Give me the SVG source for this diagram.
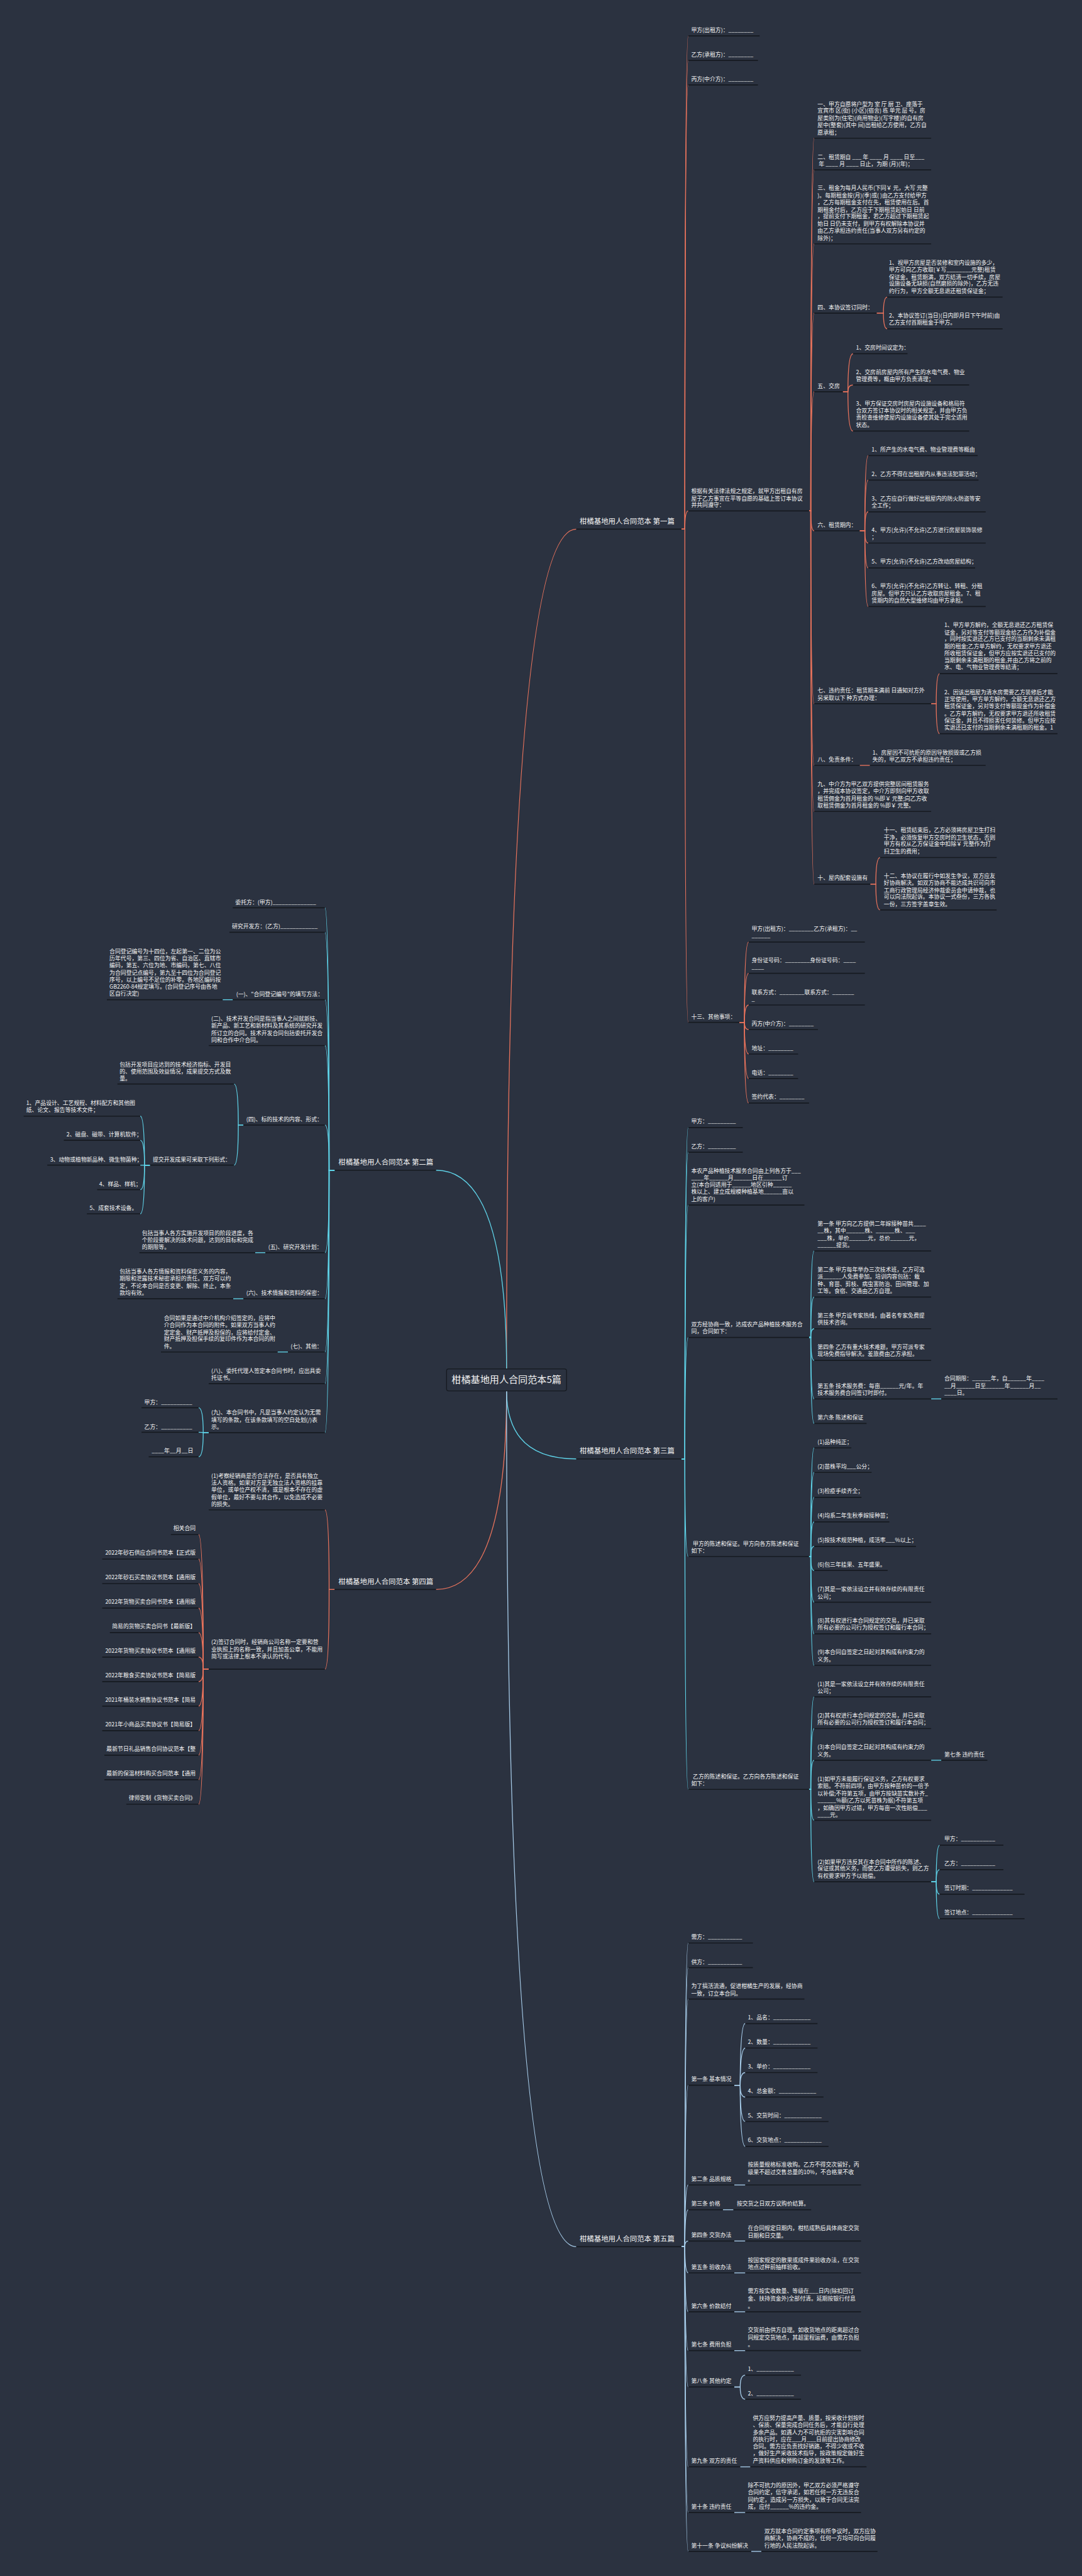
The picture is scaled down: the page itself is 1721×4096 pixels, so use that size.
<svg xmlns="http://www.w3.org/2000/svg" width="1721" height="4096" viewBox="0 0 1721 4096">
<style>
.t{font-family:"Noto Sans CJK SC","Noto Sans",sans-serif;font-size:13.2px;fill:#f4f4f4}
.m{font-size:17px}
.ct{font-size:22.5px}
.u{stroke:#161a20;stroke-width:2.5}
.c{fill:none;stroke-width:2}
.o{stroke:#e8735c}
.cy{stroke:#5fd3e8}
.lb{stroke:#a6cbe8}
</style>
<rect x="0" y="0" width="1721" height="4096" fill="#2b3240"/>
<g transform="scale(0.672)">
<g id="connectors">
<g class="c o">
<path d="M1199 3240 Q1199 1252 1364 1252"/>
<path d="M1613 1252 H1621 Q1621 85 1629 85"/>
<path d="M1613 1252 H1621 Q1621 143 1629 143"/>
<path d="M1613 1252 H1621 Q1621 201 1629 201"/>
<path d="M1613 1252 H1621 Q1621 1209 1629 1209"/>
<path d="M1613 1252 H1621 Q1621 2419 1629 2419"/>
<path d="M1915 1209 H1919 Q1919 327 1927 327"/>
<path d="M1915 1209 H1919 Q1919 402 1927 402"/>
<path d="M1915 1209 H1919 Q1919 577 1927 577"/>
<path d="M1915 1209 H1919 Q1919 741 1927 741"/>
<path d="M1915 1209 H1919 Q1919 927 1927 927"/>
<path d="M1915 1209 H1919 Q1919 1256 1927 1256"/>
<path d="M1915 1209 H1919 Q1919 1665 1927 1665"/>
<path d="M1915 1209 H1919 Q1919 1811 1927 1811"/>
<path d="M1915 1209 H1919 Q1919 1920 1927 1920"/>
<path d="M1915 1209 H1919 Q1919 2092 1927 2092"/>
<path d="M2075 741 H2091 Q2091 703 2100 703"/>
<path d="M2075 741 H2091 Q2091 778 2100 778"/>
<path d="M1995 927 H2007 Q2007 837 2019 837"/>
<path d="M1995 927 H2007 Q2007 911 2019 911"/>
<path d="M1995 927 H2007 Q2007 1020 2019 1020"/>
<path d="M2035 1256 H2047 Q2047 1078 2055 1078"/>
<path d="M2035 1256 H2047 Q2047 1136 2055 1136"/>
<path d="M2035 1256 H2047 Q2047 1211 2055 1211"/>
<path d="M2035 1256 H2047 Q2047 1285 2055 1285"/>
<path d="M2035 1256 H2047 Q2047 1344 2055 1344"/>
<path d="M2035 1256 H2047 Q2047 1435 2055 1435"/>
<path d="M2204 1665 H2216 Q2216 1594 2224 1594"/>
<path d="M2204 1665 H2216 Q2216 1736 2224 1736"/>
<path d="M2035 1811 H2059"/>
<path d="M2060 2092 H2073 Q2073 2029 2083 2029"/>
<path d="M2060 2092 H2073 Q2073 2153 2083 2153"/>
<path d="M1750 2419 H1762 Q1762 2229 1772 2229"/>
<path d="M1750 2419 H1762 Q1762 2303 1772 2303"/>
<path d="M1750 2419 H1762 Q1762 2378 1772 2378"/>
<path d="M1750 2419 H1762 Q1762 2436 1772 2436"/>
<path d="M1750 2419 H1762 Q1762 2494 1772 2494"/>
<path d="M1750 2419 H1762 Q1762 2552 1772 2552"/>
<path d="M1750 2419 H1762 Q1762 2610 1772 2610"/>
<path d="M1199 3291 Q1199 3761 1032 3761"/>
<path d="M792 3761 H779 Q779 3572.5 769 3572.5"/>
<path d="M792 3761 H779 Q779 3949.5 769 3949.5"/>
<path d="M494 3949.5 H481 Q481 3631 470 3631"/>
<path d="M494 3949.5 H481 Q481 3689 470 3689"/>
<path d="M494 3949.5 H481 Q481 3747 470 3747"/>
<path d="M494 3949.5 H481 Q481 3805 470 3805"/>
<path d="M494 3949.5 H481 Q481 3863 470 3863"/>
<path d="M494 3949.5 H481 Q481 3921 470 3921"/>
<path d="M494 3949.5 H481 Q481 3979 470 3979"/>
<path d="M494 3949.5 H481 Q481 4037 470 4037"/>
<path d="M494 3949.5 H481 Q481 4095 470 4095"/>
<path d="M494 3949.5 H481 Q481 4153 470 4153"/>
<path d="M494 3949.5 H481 Q481 4211 470 4211"/>
<path d="M494 3949.5 H481 Q481 4269 470 4269"/>
</g>
<g class="c cy">
<path d="M1199 3291 Q1199 3452 1364 3452"/>
<path d="M1613 3452 H1621 Q1621 2668 1629 2668"/>
<path d="M1613 3452 H1621 Q1621 2726.5 1629 2726.5"/>
<path d="M1613 3452 H1621 Q1621 2851.5 1629 2851.5"/>
<path d="M1613 3452 H1621 Q1621 3164.5 1629 3164.5"/>
<path d="M1613 3452 H1621 Q1621 3683 1629 3683"/>
<path d="M1613 3452 H1621 Q1621 4234 1629 4234"/>
<path d="M1915 3164.5 H1919 Q1919 2960 1927 2960"/>
<path d="M1915 3164.5 H1919 Q1919 3069 1927 3069"/>
<path d="M1915 3164.5 H1919 Q1919 3144 1927 3144"/>
<path d="M1915 3164.5 H1919 Q1919 3219 1927 3219"/>
<path d="M1915 3164.5 H1919 Q1919 3310 1927 3310"/>
<path d="M1915 3164.5 H1919 Q1919 3368 1927 3368"/>
<path d="M2204 3310 H2228"/>
<path d="M1915 3683 H1919 Q1919 3426 1927 3426"/>
<path d="M1915 3683 H1919 Q1919 3484 1927 3484"/>
<path d="M1915 3683 H1919 Q1919 3543 1927 3543"/>
<path d="M1915 3683 H1919 Q1919 3601 1927 3601"/>
<path d="M1915 3683 H1919 Q1919 3659 1927 3659"/>
<path d="M1915 3683 H1919 Q1919 3716 1927 3716"/>
<path d="M1915 3683 H1919 Q1919 3791 1927 3791"/>
<path d="M1915 3683 H1919 Q1919 3866 1927 3866"/>
<path d="M1915 3683 H1919 Q1919 3940.5 1927 3940.5"/>
<path d="M1915 4234 H1919 Q1919 4015 1927 4015"/>
<path d="M1915 4234 H1919 Q1919 4090 1927 4090"/>
<path d="M1915 4234 H1919 Q1919 4165 1927 4165"/>
<path d="M1915 4234 H1919 Q1919 4307 1927 4307"/>
<path d="M1915 4234 H1919 Q1919 4452.5 1927 4452.5"/>
<path d="M2204 4165 H2228"/>
<path d="M2204 4452.5 H2216 Q2216 4366 2224 4366"/>
<path d="M2204 4452.5 H2216 Q2216 4424 2224 4424"/>
<path d="M2204 4452.5 H2216 Q2216 4482 2224 4482"/>
<path d="M2204 4452.5 H2216 Q2216 4540 2224 4540"/>
<path d="M1199 3240 Q1199 2769 1032 2769"/>
<path d="M792 2769 H779 Q779 2148 769 2148"/>
<path d="M792 2769 H779 Q779 2206 769 2206"/>
<path d="M792 2769 H779 Q779 2365.5 769 2365.5"/>
<path d="M792 2769 H779 Q779 2474 769 2474"/>
<path d="M792 2769 H779 Q779 2662 769 2662"/>
<path d="M792 2769 H779 Q779 2964 769 2964"/>
<path d="M792 2769 H779 Q779 3073 769 3073"/>
<path d="M792 2769 H779 Q779 3199 769 3199"/>
<path d="M792 2769 H779 Q779 3274 769 3274"/>
<path d="M792 2769 H779 Q779 3390 769 3390"/>
<path d="M551 2365.5 H527"/>
<path d="M576 2662 H564 Q564 2565 554 2565"/>
<path d="M576 2662 H564 Q564 2757 554 2757"/>
<path d="M355 2757 H342 Q342 2641 332 2641"/>
<path d="M355 2757 H342 Q342 2698 332 2698"/>
<path d="M355 2757 H332"/>
<path d="M355 2757 H342 Q342 2815 332 2815"/>
<path d="M355 2757 H342 Q342 2872 332 2872"/>
<path d="M628 2964 H604"/>
<path d="M576 3073 H552"/>
<path d="M681.5 3199 H657"/>
<path d="M494 3390 H481 Q481 3331 470 3331"/>
<path d="M494 3390 H481 Q481 3389 470 3389"/>
<path d="M494 3390 H481 Q481 3447 470 3447"/>
</g>
<g class="c lb">
<path d="M1199 3291 Q1199 5316 1364 5316"/>
<path d="M1613 5316 H1621 Q1621 4597.5 1629 4597.5"/>
<path d="M1613 5316 H1621 Q1621 4655.6 1629 4655.6"/>
<path d="M1613 5316 H1621 Q1621 4730 1629 4730"/>
<path d="M1613 5316 H1621 Q1621 4934 1629 4934"/>
<path d="M1613 5316 H1621 Q1621 5170 1629 5170"/>
<path d="M1613 5316 H1621 Q1621 5228.6 1629 5228.6"/>
<path d="M1613 5316 H1621 Q1621 5302.6 1629 5302.6"/>
<path d="M1613 5316 H1621 Q1621 5378 1629 5378"/>
<path d="M1613 5316 H1621 Q1621 5470 1629 5470"/>
<path d="M1613 5316 H1621 Q1621 5562 1629 5562"/>
<path d="M1613 5316 H1621 Q1621 5648 1629 5648"/>
<path d="M1613 5316 H1621 Q1621 5837 1629 5837"/>
<path d="M1613 5316 H1621 Q1621 5945 1629 5945"/>
<path d="M1613 5316 H1621 Q1621 6037 1629 6037"/>
<path d="M1738 4934 H1752 Q1752 4788 1764 4788"/>
<path d="M1738 4934 H1752 Q1752 4846 1764 4846"/>
<path d="M1738 4934 H1752 Q1752 4904 1764 4904"/>
<path d="M1738 4934 H1752 Q1752 4962 1764 4962"/>
<path d="M1738 4934 H1752 Q1752 5020 1764 5020"/>
<path d="M1738 4934 H1752 Q1752 5078.6 1764 5078.6"/>
<path d="M1738 5170 H1764"/>
<path d="M1711 5228.6 H1736"/>
<path d="M1738 5302.6 H1764"/>
<path d="M1738 5378 H1764"/>
<path d="M1738 5470 H1764"/>
<path d="M1738 5562 H1764"/>
<path d="M1738 5648 H1752 Q1752 5620 1764 5620"/>
<path d="M1738 5648 H1752 Q1752 5677 1764 5677"/>
<path d="M1752 5837 H1776"/>
<path d="M1738 5945 H1764"/>
<path d="M1778 6037 H1802"/>
</g>
</g>

<g id="center"><rect x="1057" y="3239" width="284" height="52" rx="5" fill="#2b3240" stroke="#161a20" stroke-width="2"/><text class="t ct" x="1069" y="3273">柑橘基地用人合同范本5篇</text></g>

<g id="b1"><line class="u" x1="1364" y1="1252" x2="1613" y2="1252"/><text class="t m" x="1372" y="1239">柑橘基地用人合同范本 第一篇</text></g>
<g id="b1-1"><line class="u" x1="1629" y1="85" x2="1798" y2="85"/><text class="t" x="1636" y="75.4">甲方(出租方)：________</text></g>
<g id="b1-2"><line class="u" x1="1629" y1="143" x2="1794" y2="143"/><text class="t" x="1636" y="134">乙方(承租方)：________</text></g>
<g id="b1-3"><line class="u" x1="1629" y1="201" x2="1794" y2="201"/><text class="t" x="1636" y="192">丙方(中介方)：________</text></g>
<g id="b1-4"><line class="u" x1="1629" y1="1209" x2="1915" y2="1209"/><text class="t"><tspan x="1636" y="1167">根据有关法律法规之规定，就甲方出租自有房</tspan><tspan x="1636" y="1184">屋于乙方事宜在平等自愿的基础上签订本协议</tspan><tspan x="1636" y="1200">并共同遵守：</tspan></text></g>
<g id="b1-4-1"><line class="u" x1="1927" y1="327" x2="2204" y2="327"/><text class="t"><tspan x="1935" y="251">一、甲方自愿将户型为 室 厅 厨 卫、座落于</tspan><tspan x="1935" y="267">宜宾市 区(街) (小区)(宿舍) 栋 单元 层 号。房</tspan><tspan x="1935" y="284">屋类别为(住宅)(商用物业)(写字楼)的自有房</tspan><tspan x="1935" y="301">屋中(整套)(其中 间)出租给乙方使用，乙方自</tspan><tspan x="1935" y="318">愿承租；</tspan></text></g>
<g id="b1-4-2"><line class="u" x1="1927" y1="402" x2="2204" y2="402"/><text class="t"><tspan x="1935" y="376">二、租赁期自 ___ 年 ____ 月 ____ 日至___</tspan><tspan x="1935" y="393"> 年 ____ 月 ____ 日止，为期 (月)(年)；</tspan></text></g>
<g id="b1-4-3"><line class="u" x1="1927" y1="577" x2="2204" y2="577"/><text class="t"><tspan x="1935" y="450">三、租金为每月人民币(下同￥ 元，大写 元整</tspan><tspan x="1935" y="467">)。每期租金按(月)(季)或( )由乙方支付给甲方</tspan><tspan x="1935" y="484">，乙方每期租金支付在先，租赁使用在后。首</tspan><tspan x="1935" y="501">期租金付后，乙方应于下期租赁起始日 日前</tspan><tspan x="1935" y="517">，提前支付下期租金，若乙方超过下期租赁起</tspan><tspan x="1935" y="534">始日 日仍未支付，则甲方有权解除本协议并</tspan><tspan x="1935" y="551">由乙方承担违约责任(当事人双方另有约定的</tspan><tspan x="1935" y="568">除外)；</tspan></text></g>
<g id="b1-4-4"><line class="u" x1="1927" y1="741" x2="2075" y2="741"/><text class="t" x="1935" y="732">四、本协议签订同时：</text></g>
<g id="b1-4-4-1"><line class="u" x1="2100" y1="703" x2="2373" y2="703"/><text class="t"><tspan x="2104" y="626">1、视甲方房屋是否装修和室内设施的多少，</tspan><tspan x="2104" y="643">甲方可向乙方收取(￥写________元整)租赁</tspan><tspan x="2104" y="660">保证金。租赁期满，双方结清一切手续，房屋</tspan><tspan x="2104" y="676">设施设备无缺损(自然磨损的除外)，乙方无违</tspan><tspan x="2104" y="693">约行为，甲方全额无息退还租赁保证金；</tspan></text></g>
<g id="b1-4-4-2"><line class="u" x1="2100" y1="778" x2="2373" y2="778"/><text class="t"><tspan x="2104" y="752">2、本协议签订(当日)(日内即月日下午时前)由</tspan><tspan x="2104" y="768">乙方支付首期租金于甲方。</tspan></text></g>
<g id="b1-4-5"><line class="u" x1="1927" y1="927" x2="1995" y2="927"/><text class="t" x="1935" y="918">五、交房</text></g>
<g id="b1-4-5-1"><line class="u" x1="2019" y1="837" x2="2148" y2="837"/><text class="t" x="2026" y="827">1、交房时间议定为：</text></g>
<g id="b1-4-5-2"><line class="u" x1="2019" y1="911" x2="2294" y2="911"/><text class="t"><tspan x="2026" y="885">2、交房前房屋内所有产生的水电气费、物业</tspan><tspan x="2026" y="902">管理费等，概由甲方负责清理；</tspan></text></g>
<g id="b1-4-5-3"><line class="u" x1="2019" y1="1020" x2="2294" y2="1020"/><text class="t"><tspan x="2026" y="960">3、甲方保证交房时房屋内设施设备和格局符</tspan><tspan x="2026" y="976">合双方签订本协议时的相关规定，并由甲方负</tspan><tspan x="2026" y="993">责检查维修使屋内设施设备使其处于完全适用</tspan><tspan x="2026" y="1010">状态。</tspan></text></g>
<g id="b1-4-6"><line class="u" x1="1927" y1="1256" x2="2035" y2="1256"/><text class="t" x="1935" y="1247">六、租赁期内：</text></g>
<g id="b1-4-6-1"><line class="u" x1="2055" y1="1078" x2="2314" y2="1078"/><text class="t" x="2063" y="1068">1、所产生的水电气费、物业管理费等概由</text></g>
<g id="b1-4-6-2"><line class="u" x1="2055" y1="1136" x2="2316" y2="1136"/><text class="t" x="2063" y="1126">2、乙方不得在出租屋内从事违法犯罪活动；</text></g>
<g id="b1-4-6-3"><line class="u" x1="2055" y1="1211" x2="2333" y2="1211"/><text class="t"><tspan x="2063" y="1185">3、乙方应自行做好出租屋内的防火防盗等安</tspan><tspan x="2063" y="1201">全工作；</tspan></text></g>
<g id="b1-4-6-4"><line class="u" x1="2055" y1="1285" x2="2333" y2="1285"/><text class="t"><tspan x="2063" y="1259">4、甲方(允许)(不允许)乙方进行房屋装饰装修</tspan><tspan x="2063" y="1276">；</tspan></text></g>
<g id="b1-4-6-5"><line class="u" x1="2055" y1="1344" x2="2308" y2="1344"/><text class="t" x="2063" y="1334">5、甲方(允许)(不允许)乙方改动房屋结构；</text></g>
<g id="b1-4-6-6"><line class="u" x1="2055" y1="1435" x2="2333" y2="1435"/><text class="t"><tspan x="2063" y="1392">6、甲方(允许)(不允许)乙方转让、转租、分租</tspan><tspan x="2063" y="1409">房屋。但甲方只认乙方收取房屋租金。7、租</tspan><tspan x="2063" y="1426">赁期内的自然大型维修均由甲方承担。</tspan></text></g>
<g id="b1-4-7"><line class="u" x1="1927" y1="1665" x2="2204" y2="1665"/><text class="t"><tspan x="1935" y="1639">七、违约责任：租赁期未满前 日通知对方外</tspan><tspan x="1935" y="1656">另采取以下 种方式办理：</tspan></text></g>
<g id="b1-4-7-1"><line class="u" x1="2224" y1="1594" x2="2503" y2="1594"/><text class="t"><tspan x="2235" y="1484">1、甲方单方解约，全额无息退还乙方租赁保</tspan><tspan x="2235" y="1501">证金，另对等支付等额现金给乙方作为补偿金</tspan><tspan x="2235" y="1517">，同时按实退还乙方已支付的当期剩余未满租</tspan><tspan x="2235" y="1534">期的租金;乙方单方解约，无权要求甲方退还</tspan><tspan x="2235" y="1551">所收租赁保证金，但甲方应按实退还已支付的</tspan><tspan x="2235" y="1567">当期剩余未满租期的租金,并由乙方将之前的</tspan><tspan x="2235" y="1584">水、电、气物业管理费等结清；</tspan></text></g>
<g id="b1-4-7-2"><line class="u" x1="2224" y1="1736" x2="2503" y2="1736"/><text class="t"><tspan x="2235" y="1643">2、因该出租屋为清水房需要乙方装修后才能</tspan><tspan x="2235" y="1659">正常使用，甲方单方解约，全额无息退还乙方</tspan><tspan x="2235" y="1676">租赁保证金，另对等支付等额现金作为补偿金</tspan><tspan x="2235" y="1693">。乙方单方解约，无权要求甲方退还所收租赁</tspan><tspan x="2235" y="1710">保证金，并且不得损害任何装修。但甲方应按</tspan><tspan x="2235" y="1726">实退还已支付的当期剩余未满租期的租金。1</tspan></text></g>
<g id="b1-4-8"><line class="u" x1="1927" y1="1811" x2="2035" y2="1811"/><text class="t" x="1935" y="1802">八、免责条件：</text></g>
<g id="b1-4-8-1"><line class="u" x1="2059" y1="1811" x2="2333" y2="1811"/><text class="t"><tspan x="2065" y="1785">1、房屋因不可抗拒的原因导致损毁或乙方损</tspan><tspan x="2065" y="1802">失的，甲乙双方不承担违约责任；</tspan></text></g>
<g id="b1-4-9"><line class="u" x1="1927" y1="1920" x2="2204" y2="1920"/><text class="t"><tspan x="1935" y="1860">九、中介方为甲乙双方提供完整居间租赁服务</tspan><tspan x="1935" y="1877">，并完成本协议签定，中介方即刻向甲方收取</tspan><tspan x="1935" y="1894">租赁佣金为首月租金的 %即￥ 元整;向乙方收</tspan><tspan x="1935" y="1910">取租赁佣金为首月租金的 %即￥ 元整。</tspan></text></g>
<g id="b1-4-10"><line class="u" x1="1927" y1="2092" x2="2060" y2="2092"/><text class="t" x="1935" y="2082">十、屋内配套设施有</text></g>
<g id="b1-4-10-1"><line class="u" x1="2083" y1="2029" x2="2359" y2="2029"/><text class="t"><tspan x="2092" y="1969">十一、租赁结束后，乙方必须将房屋卫生打扫</tspan><tspan x="2092" y="1986">干净，必须恢复甲方交房时的卫生状态，否则</tspan><tspan x="2092" y="2002">甲方有权从乙方保证金中扣除￥ 元整作为打</tspan><tspan x="2092" y="2019">扫卫生的费用；</tspan></text></g>
<g id="b1-4-10-2"><line class="u" x1="2083" y1="2153" x2="2359" y2="2153"/><text class="t"><tspan x="2092" y="2077">十二、本协议在履行中如发生争议，双方应友</tspan><tspan x="2092" y="2094">好协商解决。如双方协商不能达成共识可向市</tspan><tspan x="2092" y="2111">工商行政管理局经济仲裁委员会申请仲裁，也</tspan><tspan x="2092" y="2127">可以向法院起诉。本协议一式叁份，三方各执</tspan><tspan x="2092" y="2144">一份，三方签字盖章生效。</tspan></text></g>
<g id="b1-5"><line class="u" x1="1629" y1="2419" x2="1750" y2="2419"/><text class="t" x="1636" y="2410">十三、其他事项：</text></g>
<g id="b1-5-1"><line class="u" x1="1772" y1="2229" x2="2047" y2="2229"/><text class="t"><tspan x="1779" y="2202">甲方(出租方)：________乙方(承租方)：__</tspan><tspan x="1779" y="2218.7">______</tspan></text></g>
<g id="b1-5-2"><line class="u" x1="1772" y1="2303" x2="2047" y2="2303"/><text class="t"><tspan x="1779" y="2277">身份证号码：________身份证号码：____</tspan><tspan x="1779" y="2293.5">____</tspan></text></g>
<g id="b1-5-3"><line class="u" x1="1772" y1="2378" x2="2047" y2="2378"/><text class="t"><tspan x="1779" y="2352">联系方式：________联系方式：_______</tspan><tspan x="1779" y="2368.5">_</tspan></text></g>
<g id="b1-5-4"><line class="u" x1="1772" y1="2436" x2="1936" y2="2436"/><text class="t" x="1779" y="2427">丙方(中介方)：________</text></g>
<g id="b1-5-5"><line class="u" x1="1772" y1="2494" x2="1889" y2="2494"/><text class="t" x="1779" y="2485">地址：________</text></g>
<g id="b1-5-6"><line class="u" x1="1772" y1="2552" x2="1889" y2="2552"/><text class="t" x="1779" y="2543">电话：________</text></g>
<g id="b1-5-7"><line class="u" x1="1772" y1="2610" x2="1915" y2="2610"/><text class="t" x="1779" y="2600">签约代表：________</text></g>

<g id="b2"><line class="u" x1="792" y1="2769" x2="1032" y2="2769"/><text class="t m" x="801" y="2755.5">柑橘基地用人合同范本 第二篇</text></g>
<g id="b2-1"><line class="u" x1="551" y1="2148" x2="769" y2="2148"/><text class="t" x="557" y="2140">委托方：(甲方)______________</text></g>
<g id="b2-2"><line class="u" x1="543" y1="2206" x2="769" y2="2206"/><text class="t" x="549" y="2197">研究开发方：(乙方)____________</text></g>
<g id="b2-3"><line class="u" x1="551" y1="2365.5" x2="769" y2="2365.5"/><text class="t" x="559" y="2357">(一)、"合同登记编号"的填写方法：</text></g>
<g id="b2-3-1"><line class="u" x1="253" y1="2365.5" x2="527" y2="2365.5"/><text class="t"><tspan x="259" y="2256">合同登记编号为十四位，左起第一、二位为公</tspan><tspan x="259" y="2272">历年代号，第三、四位为省、自治区、直辖市</tspan><tspan x="259" y="2289">编码，第五、六位为地、市编码，第七、八位</tspan><tspan x="259" y="2306">为合同登记点编号，第九至十四位为合同登记</tspan><tspan x="259" y="2323">序号，以上编号不足位的补零。各地区编码按</tspan><tspan x="259" y="2339">GB2260-84规定填写。(合同登记序号由各地</tspan><tspan x="259" y="2356">区自行决定)</tspan></text></g>
<g id="b2-4"><line class="u" x1="494" y1="2474" x2="769" y2="2474"/><text class="t"><tspan x="500" y="2415">(二)、技术开发合同是指当事人之间就新技、</tspan><tspan x="500" y="2432">新产品、新工艺和新材料及其系统的研究开发</tspan><tspan x="500" y="2449">所订立的合同。技术开发合同包括委托开发合</tspan><tspan x="500" y="2466">同和合作中介合同。</tspan></text></g>
<g id="b2-5"><line class="u" x1="576" y1="2662" x2="769" y2="2662"/><text class="t" x="583" y="2652.6">(四)、标的技术的内容、形式：</text></g>
<g id="b2-5-1"><line class="u" x1="278" y1="2565" x2="554" y2="2565"/><text class="t"><tspan x="283" y="2524">包括开发项目应达到的技术经济指标、开发目</tspan><tspan x="283" y="2540">的、使用范围及效益情况，成果提交方式及数</tspan><tspan x="283" y="2557">量。</tspan></text></g>
<g id="b2-5-2"><line class="u" x1="355" y1="2757" x2="554" y2="2757"/><text class="t" x="361.5" y="2748">提交开发成果可采取下列形式：</text></g>
<g id="b2-5-2-1"><line class="u" x1="56" y1="2641" x2="332" y2="2641"/><text class="t"><tspan x="62" y="2615">1、产品设计、工艺规程、材料配方和其他图</tspan><tspan x="62" y="2631.6">纸、论文、报告等技术文件；</tspan></text></g>
<g id="b2-5-2-2"><line class="u" x1="151" y1="2698" x2="332" y2="2698"/><text class="t" x="157.5" y="2689.5">2、磁盘、磁带、计算机软件；</text></g>
<g id="b2-5-2-3"><line class="u" x1="112" y1="2757" x2="332" y2="2757"/><text class="t" x="118.6" y="2748">3、动物或植物新品种、微生物菌种；</text></g>
<g id="b2-5-2-4"><line class="u" x1="230" y1="2815" x2="332" y2="2815"/><text class="t" x="234.6" y="2806">4、样品、样机；</text></g>
<g id="b2-5-2-5"><line class="u" x1="205.6" y1="2872" x2="332" y2="2872"/><text class="t" x="212" y="2863.5">5、成套技术设备。</text></g>
<g id="b2-6"><line class="u" x1="628" y1="2964" x2="769" y2="2964"/><text class="t" x="635" y="2956">(五)、研究开发计划：</text></g>
<g id="b2-6-1"><line class="u" x1="330" y1="2964" x2="604" y2="2964"/><text class="t"><tspan x="336" y="2922">包括当事人各方实施开发项目的阶段进度，各</tspan><tspan x="336" y="2939">个阶段要解决的技术问题，达到的目标和完成</tspan><tspan x="336" y="2956">的期限等。</tspan></text></g>
<g id="b2-7"><line class="u" x1="576" y1="3073" x2="769" y2="3073"/><text class="t" x="583" y="3064">(六)、技术情报和资料的保密：</text></g>
<g id="b2-7-1"><line class="u" x1="278" y1="3073" x2="552" y2="3073"/><text class="t"><tspan x="283" y="3013">包括当事人各方情报和资料保密义务的内容，</tspan><tspan x="283" y="3030.5">期限和泄露技术秘密承担的责任。双方可以约</tspan><tspan x="283" y="3047">定，不论本合同是否变更、解除、终止，本条</tspan><tspan x="283" y="3064">款均有效。</tspan></text></g>
<g id="b2-8"><line class="u" x1="681.5" y1="3199" x2="769" y2="3199"/><text class="t" x="688" y="3190">(七)、其他：</text></g>
<g id="b2-8-1"><line class="u" x1="381" y1="3199" x2="657" y2="3199"/><text class="t"><tspan x="388" y="3123">合同如果是通过中介机构介绍签定的，应将中</tspan><tspan x="388" y="3140">介合同作为本合同的附件。如果双方当事人约</tspan><tspan x="388" y="3157">定定金、财产抵押及担保的，应将给付定金、</tspan><tspan x="388" y="3173">财产抵押及担保手续的复印件作为本合同的附</tspan><tspan x="388" y="3190">件。</tspan></text></g>
<g id="b2-9"><line class="u" x1="494" y1="3274" x2="769" y2="3274"/><text class="t"><tspan x="500" y="3248">(八)、委托代理人签定本合同书时，应出具委</tspan><tspan x="500" y="3265">托证书。</tspan></text></g>
<g id="b2-10"><line class="u" x1="494" y1="3390" x2="769" y2="3390"/><text class="t"><tspan x="500" y="3347">(九)、本合同书中，凡是当事人约定认为无需</tspan><tspan x="500" y="3364">填写的条款，在该条款填写的空白处划(/)表</tspan><tspan x="500" y="3381">示。</tspan></text></g>
<g id="b2-10-1"><line class="u" x1="335" y1="3331" x2="470" y2="3331"/><text class="t" x="341.6" y="3323">甲方：__________</text></g>
<g id="b2-10-2"><line class="u" x1="335" y1="3389" x2="470" y2="3389"/><text class="t" x="341.6" y="3381">乙方：__________</text></g>
<g id="b2-10-3"><line class="u" x1="352" y1="3447" x2="470" y2="3447"/><text class="t" x="359" y="3438">____年__月__日</text></g>

<g id="b3"><line class="u" x1="1364" y1="3452" x2="1613" y2="3452"/><text class="t m" x="1372" y="3439">柑橘基地用人合同范本 第三篇</text></g>
<g id="b3-1"><line class="u" x1="1629" y1="2668" x2="1758" y2="2668"/><text class="t" x="1636" y="2658">甲方：_________</text></g>
<g id="b3-2"><line class="u" x1="1629" y1="2726.5" x2="1758" y2="2726.5"/><text class="t" x="1636" y="2717">乙方：_________</text></g>
<g id="b3-3"><line class="u" x1="1629" y1="2851.5" x2="1904" y2="2851.5"/><text class="t"><tspan x="1636" y="2775">本农产品种植技术服务合同由上列各方于___</tspan><tspan x="1636" y="2792">____年______月______日在______订</tspan><tspan x="1636" y="2808">立(本合同适用于______地区引种______</tspan><tspan x="1636" y="2825">株以上、建立成规模种植基地______亩以</tspan><tspan x="1636" y="2842">上的客户)</tspan></text></g>
<g id="b3-4"><line class="u" x1="1629" y1="3164.5" x2="1915" y2="3164.5"/><text class="t"><tspan x="1636" y="3138">双方经协商一致，达成农产品种植技术服务合</tspan><tspan x="1636" y="3155">同，合同如下：</tspan></text></g>
<g id="b3-4-1"><line class="u" x1="1927" y1="2960" x2="2204" y2="2960"/><text class="t"><tspan x="1935" y="2901">第一条 甲方向乙方提供二年嫁接种苗共____</tspan><tspan x="1935" y="2917">__株，其中______株、______株、___</tspan><tspan x="1935" y="2934">___株，单价______元，总价______元，</tspan><tspan x="1935" y="2951">______提货。</tspan></text></g>
<g id="b3-4-2"><line class="u" x1="1927" y1="3069" x2="2204" y2="3069"/><text class="t"><tspan x="1935" y="3009">第二条 甲方每年举办三次技术班，乙方可选</tspan><tspan x="1935" y="3026">派______人免费参加。培训内容包括：栽</tspan><tspan x="1935" y="3043">种、育苗、剪枝、病虫害防治、田间管理、加</tspan><tspan x="1935" y="3060">工等。食宿、交通由乙方自理。</tspan></text></g>
<g id="b3-4-3"><line class="u" x1="1927" y1="3144" x2="2204" y2="3144"/><text class="t"><tspan x="1935" y="3117">第三条 甲方设专家热线，由著名专家免费提</tspan><tspan x="1935" y="3134">供技术咨询。</tspan></text></g>
<g id="b3-4-4"><line class="u" x1="1927" y1="3219" x2="2204" y2="3219"/><text class="t"><tspan x="1935" y="3192">第四条 乙方有重大技术难题，甲方可派专家</tspan><tspan x="1935" y="3209">现场免费指导解决。差旅费由乙方承担。</tspan></text></g>
<g id="b3-4-5"><line class="u" x1="1927" y1="3310" x2="2204" y2="3310"/><text class="t"><tspan x="1935" y="3284">第五条 技术服务费：每亩______元/年。年</tspan><tspan x="1935" y="3301">技术服务费合同签订时即付。</tspan></text></g>
<g id="b3-4-5-1"><line class="u" x1="2228" y1="3310" x2="2503" y2="3310"/><text class="t"><tspan x="2235" y="3267">合同期限：______年，自______年____</tspan><tspan x="2235" y="3284.5">__月______日至______年______月__</tspan><tspan x="2235" y="3301">____日。</tspan></text></g>
<g id="b3-4-6"><line class="u" x1="1927" y1="3368" x2="2051" y2="3368"/><text class="t" x="1935" y="3359">第六条 陈述和保证</text></g>
<g id="b3-5"><line class="u" x1="1629" y1="3683" x2="1915" y2="3683"/><text class="t"><tspan x="1640" y="3657">甲方的陈述和保证。甲方向各方陈述和保证</tspan><tspan x="1636" y="3674">如下：</tspan></text></g>
<g id="b3-5-1"><line class="u" x1="1927" y1="3426" x2="2015" y2="3426"/><text class="t" x="1935" y="3417">(1)品种纯正；</text></g>
<g id="b3-5-2"><line class="u" x1="1927" y1="3484" x2="2063" y2="3484"/><text class="t" x="1935" y="3475">(2)苗株平均___公分；</text></g>
<g id="b3-5-3"><line class="u" x1="1927" y1="3543" x2="2039" y2="3543"/><text class="t" x="1935" y="3533">(3)检疫手续齐全；</text></g>
<g id="b3-5-4"><line class="u" x1="1927" y1="3601" x2="2105" y2="3601"/><text class="t" x="1935" y="3591">(4)均系二年生秋季嫁接种苗；</text></g>
<g id="b3-5-5"><line class="u" x1="1927" y1="3659" x2="2168" y2="3659"/><text class="t" x="1935" y="3649">(5)按技术规范种植，成活率___%以上；</text></g>
<g id="b3-5-6"><line class="u" x1="1927" y1="3716" x2="2101" y2="3716"/><text class="t" x="1935" y="3707">(6)包三年挂果、五年盛果。</text></g>
<g id="b3-5-7"><line class="u" x1="1927" y1="3791" x2="2204" y2="3791"/><text class="t"><tspan x="1935" y="3765">(7)其是一家依法设立并有效存续的有限责任</tspan><tspan x="1935" y="3782">公司；</tspan></text></g>
<g id="b3-5-8"><line class="u" x1="1927" y1="3866" x2="2204" y2="3866"/><text class="t"><tspan x="1935" y="3840">(8)其有权进行本合同规定的交易，并已采取</tspan><tspan x="1935" y="3856">所有必要的公司行为授权签订和履行本合同；</tspan></text></g>
<g id="b3-5-9"><line class="u" x1="1927" y1="3940.5" x2="2204" y2="3940.5"/><text class="t"><tspan x="1935" y="3914">(9)本合同自签定之日起对其构成有约束力的</tspan><tspan x="1935" y="3931">义务。</tspan></text></g>
<g id="b3-6"><line class="u" x1="1629" y1="4234" x2="1915" y2="4234"/><text class="t"><tspan x="1640" y="4208">乙方的陈述和保证。乙方向各方陈述和保证</tspan><tspan x="1636" y="4225">如下：</tspan></text></g>
<g id="b3-6-1"><line class="u" x1="1927" y1="4015" x2="2204" y2="4015"/><text class="t"><tspan x="1935" y="3989">(1)其是一家依法设立并有效存续的有限责任</tspan><tspan x="1935" y="4006">公司；</tspan></text></g>
<g id="b3-6-2"><line class="u" x1="1927" y1="4090" x2="2204" y2="4090"/><text class="t"><tspan x="1935" y="4064">(2)其有权进行本合同规定的交易，并已采取</tspan><tspan x="1935" y="4081">所有必要的公司行为授权签订和履行本合同；</tspan></text></g>
<g id="b3-6-3"><line class="u" x1="1927" y1="4165" x2="2204" y2="4165"/><text class="t"><tspan x="1935" y="4139">(3)本合同自签定之日起对其构成有约束力的</tspan><tspan x="1935" y="4156">义务。</tspan></text></g>
<g id="b3-6-3-1"><line class="u" x1="2228" y1="4165" x2="2337" y2="4165"/><text class="t" x="2235" y="4156">第七条 违约责任</text></g>
<g id="b3-6-4"><line class="u" x1="1927" y1="4307" x2="2204" y2="4307"/><text class="t"><tspan x="1935" y="4214">(1)如甲方未能履行保证义务，乙方有权要求</tspan><tspan x="1935" y="4231">索赔。不符前四项，由甲方按种苗价的一倍予</tspan><tspan x="1935" y="4248">以补偿;不符第五项，由甲方按缺苗实数补齐_</tspan><tspan x="1935" y="4265">______%额(乙方以死苗株为据)不符第五项</tspan><tspan x="1935" y="4282">，如确因甲方过错，甲方每亩一次性赔偿___</tspan><tspan x="1935" y="4299">____元。</tspan></text></g>
<g id="b3-6-5"><line class="u" x1="1927" y1="4452.5" x2="2204" y2="4452.5"/><text class="t"><tspan x="1935" y="4410">(2)如果甲方违反其在本合同中所作的陈述、</tspan><tspan x="1935" y="4426">保证或其他义务，而使乙方遭受损失，则乙方</tspan><tspan x="1935" y="4443">有权要求甲方予以赔偿。</tspan></text></g>
<g id="b3-6-5-1"><line class="u" x1="2224" y1="4366" x2="2375" y2="4366"/><text class="t" x="2235" y="4356">甲方：___________</text></g>
<g id="b3-6-5-2"><line class="u" x1="2224" y1="4424" x2="2375" y2="4424"/><text class="t" x="2235" y="4414">乙方：___________</text></g>
<g id="b3-6-5-3"><line class="u" x1="2224" y1="4482" x2="2425" y2="4482"/><text class="t" x="2235" y="4472">签订时期：_____________</text></g>
<g id="b3-6-5-4"><line class="u" x1="2224" y1="4540" x2="2425" y2="4540"/><text class="t" x="2235" y="4530">签订地点：_____________</text></g>

<g id="b4"><line class="u" x1="792" y1="3761" x2="1032" y2="3761"/><text class="t m" x="801" y="3748">柑橘基地用人合同范本 第四篇</text></g>
<g id="b4-1"><line class="u" x1="494" y1="3572.5" x2="769" y2="3572.5"/><text class="t"><tspan x="500" y="3496.5">(1)考察经销商是否合法存在，是否具有独立</tspan><tspan x="500" y="3513">法人资格。如果对方是无独立法人资格的挂靠</tspan><tspan x="500" y="3530">单位，或单位产权不清，或是根本不存在的虚</tspan><tspan x="500" y="3547">假单位，最好不要与其合作，以免造成不必要</tspan><tspan x="500" y="3563.5">的损失。</tspan></text></g>
<g id="b4-2"><line class="u" x1="494" y1="3949.5" x2="769" y2="3949.5"/><text class="t"><tspan x="500" y="3890">(2)签订合同时，经销商公司名称一定要和营</tspan><tspan x="500" y="3907">业执照上的名称一致，并且加盖公章，不能用</tspan><tspan x="500" y="3924">简写或法律上根本不承认的代号。</tspan></text></g>
<g id="b4-2-1"><line class="u" x1="404.6" y1="3631" x2="470" y2="3631"/><text class="t" x="463" y="3621" text-anchor="end">相关合同</text></g>
<g id="b4-2-2"><line class="u" x1="242" y1="3689" x2="470" y2="3689"/><text class="t" x="463" y="3679" text-anchor="end">2022年砂石供应合同书范本【正式版</text></g>
<g id="b4-2-3"><line class="u" x1="242" y1="3747" x2="470" y2="3747"/><text class="t" x="463" y="3737" text-anchor="end">2022年砂石买卖协议书范本【通用版</text></g>
<g id="b4-2-4"><line class="u" x1="242" y1="3805" x2="470" y2="3805"/><text class="t" x="463" y="3795" text-anchor="end">2022年货物买卖合同书范本【通用版</text></g>
<g id="b4-2-5"><line class="u" x1="260" y1="3863" x2="470" y2="3863"/><text class="t" x="463" y="3853" text-anchor="end">简易的货物买卖合同书【最新版】</text></g>
<g id="b4-2-6"><line class="u" x1="242" y1="3921" x2="470" y2="3921"/><text class="t" x="463" y="3911" text-anchor="end">2022年货物买卖协议书范本【通用版</text></g>
<g id="b4-2-7"><line class="u" x1="242" y1="3979" x2="470" y2="3979"/><text class="t" x="463" y="3969" text-anchor="end">2022年粮食买卖协议书范本【简易版</text></g>
<g id="b4-2-8"><line class="u" x1="242" y1="4037" x2="470" y2="4037"/><text class="t" x="463" y="4027" text-anchor="end">2021年桶装水销售协议书范本【简易</text></g>
<g id="b4-2-9"><line class="u" x1="242" y1="4095" x2="470" y2="4095"/><text class="t" x="463" y="4085" text-anchor="end">2021年小商品买卖协议书【简易版】</text></g>
<g id="b4-2-10"><line class="u" x1="247" y1="4153" x2="470" y2="4153"/><text class="t" x="463" y="4143" text-anchor="end">最新节日礼品销售合同协议范本【整</text></g>
<g id="b4-2-11"><line class="u" x1="247" y1="4211" x2="470" y2="4211"/><text class="t" x="463" y="4201" text-anchor="end">最新的保温材料购买合同范本【通用</text></g>
<g id="b4-2-12"><line class="u" x1="299" y1="4269" x2="470" y2="4269"/><text class="t" x="463" y="4259" text-anchor="end">律师定制《货物买卖合同》</text></g>

<g id="b5"><line class="u" x1="1364" y1="5316" x2="1613" y2="5316"/><text class="t m" x="1372" y="5304">柑橘基地用人合同范本 第五篇</text></g>
<g id="b5-1"><line class="u" x1="1629" y1="4597.5" x2="1782" y2="4597.5"/><text class="t" x="1636" y="4588.5">需方：___________</text></g>
<g id="b5-2"><line class="u" x1="1629" y1="4655.6" x2="1782" y2="4655.6"/><text class="t" x="1636" y="4647">供方：___________</text></g>
<g id="b5-3"><line class="u" x1="1629" y1="4730" x2="1904" y2="4730"/><text class="t"><tspan x="1636" y="4704">为了搞活流通，促进柑橘生产的发展，经协商</tspan><tspan x="1636" y="4721">一致，订立本合同。</tspan></text></g>
<g id="b5-4"><line class="u" x1="1629" y1="4934" x2="1738" y2="4934"/><text class="t" x="1636" y="4924">第一条 基本情况</text></g>
<g id="b5-4-1"><line class="u" x1="1764" y1="4788" x2="1935" y2="4788"/><text class="t" x="1770" y="4779">1、品名：____________</text></g>
<g id="b5-4-2"><line class="u" x1="1764" y1="4846" x2="1935" y2="4846"/><text class="t" x="1770" y="4837">2、数量：____________</text></g>
<g id="b5-4-3"><line class="u" x1="1764" y1="4904" x2="1935" y2="4904"/><text class="t" x="1770" y="4895">3、单价：____________</text></g>
<g id="b5-4-4"><line class="u" x1="1764" y1="4962" x2="1949" y2="4962"/><text class="t" x="1770" y="4953">4、总金额：____________</text></g>
<g id="b5-4-5"><line class="u" x1="1764" y1="5020" x2="1961" y2="5020"/><text class="t" x="1770" y="5010">5、交货时间：____________</text></g>
<g id="b5-4-6"><line class="u" x1="1764" y1="5078.6" x2="1961" y2="5078.6"/><text class="t" x="1770" y="5069">6、交货地点：____________</text></g>
<g id="b5-5"><line class="u" x1="1629" y1="5170" x2="1738" y2="5170"/><text class="t" x="1636" y="5161">第二条 品质规格</text></g>
<g id="b5-5-1"><line class="u" x1="1764" y1="5170" x2="2038" y2="5170"/><text class="t"><tspan x="1770" y="5127">按质量规格标准收购。乙方不得交次留好，丙</tspan><tspan x="1770" y="5144">级果不超过交售总量的10%，不合格果不收</tspan><tspan x="1770" y="5161">。</tspan></text></g>
<g id="b5-6"><line class="u" x1="1629" y1="5228.6" x2="1711" y2="5228.6"/><text class="t" x="1636" y="5219">第三条 价格</text></g>
<g id="b5-6-1"><line class="u" x1="1736" y1="5228.6" x2="1920" y2="5228.6"/><text class="t" x="1744" y="5219">按交货之日双方议购价结算。</text></g>
<g id="b5-7"><line class="u" x1="1629" y1="5302.6" x2="1738" y2="5302.6"/><text class="t" x="1636" y="5293">第四条 交货办法</text></g>
<g id="b5-7-1"><line class="u" x1="1764" y1="5302.6" x2="2038" y2="5302.6"/><text class="t"><tspan x="1770" y="5277">在合同规定日期内，柑桔成熟后具体商定交货</tspan><tspan x="1770" y="5294">日期和日交量。</tspan></text></g>
<g id="b5-8"><line class="u" x1="1629" y1="5378" x2="1738" y2="5378"/><text class="t" x="1636" y="5369">第五条 验收办法</text></g>
<g id="b5-8-1"><line class="u" x1="1764" y1="5378" x2="2038" y2="5378"/><text class="t"><tspan x="1770" y="5352">按国家规定的散果或成件果验收办法，在交货</tspan><tspan x="1770" y="5369">地点过秤前抽样验收。</tspan></text></g>
<g id="b5-9"><line class="u" x1="1629" y1="5470" x2="1738" y2="5470"/><text class="t" x="1636" y="5461">第六条 价款结付</text></g>
<g id="b5-9-1"><line class="u" x1="1764" y1="5470" x2="2038" y2="5470"/><text class="t"><tspan x="1770" y="5426">需方按实收数量、等级在___日内(除扣回订</tspan><tspan x="1770" y="5443">金、扶持资金外)全部付清。延期按银行付息</tspan><tspan x="1770" y="5461">。</tspan></text></g>
<g id="b5-10"><line class="u" x1="1629" y1="5562" x2="1738" y2="5562"/><text class="t" x="1636" y="5552">第七条 费用负担</text></g>
<g id="b5-10-1"><line class="u" x1="1764" y1="5562" x2="2038" y2="5562"/><text class="t"><tspan x="1770" y="5518">交货前由供方自理。如收货地点的距离超过合</tspan><tspan x="1770" y="5535">同规定交货地点，其超里程运费，由需方负担</tspan><tspan x="1770" y="5552">。</tspan></text></g>
<g id="b5-11"><line class="u" x1="1629" y1="5648" x2="1738" y2="5648"/><text class="t" x="1636" y="5639">第八条 其他约定</text></g>
<g id="b5-11-1"><line class="u" x1="1764" y1="5620" x2="1896" y2="5620"/><text class="t" x="1770" y="5610">1、____________</text></g>
<g id="b5-11-2"><line class="u" x1="1764" y1="5677" x2="1896" y2="5677"/><text class="t" x="1770" y="5668">2、____________</text></g>
<g id="b5-12"><line class="u" x1="1629" y1="5837" x2="1752" y2="5837"/><text class="t" x="1636" y="5827">第九条 双方的责任</text></g>
<g id="b5-12-1"><line class="u" x1="1776" y1="5837" x2="2051" y2="5837"/><text class="t"><tspan x="1782" y="5726">供方应努力提高产量、质量，按采收计划按时</tspan><tspan x="1782" y="5743">、保质、保量完成合同任务后，才能自行处理</tspan><tspan x="1782" y="5760">多余产品。如遇人力不可抗拒的灾害影响合同</tspan><tspan x="1782" y="5777">的执行时，应在___月___日前提出协商修改</tspan><tspan x="1782" y="5793">合同。需方应负责找好销路，不得少收或不收</tspan><tspan x="1782" y="5810">，做好生产采收技术指导，按政策规定做好生</tspan><tspan x="1782" y="5827">产资料供应和预购订金的发放等工作。</tspan></text></g>
<g id="b5-13"><line class="u" x1="1629" y1="5945" x2="1738" y2="5945"/><text class="t" x="1636" y="5936">第十条 违约责任</text></g>
<g id="b5-13-1"><line class="u" x1="1764" y1="5945" x2="2038" y2="5945"/><text class="t"><tspan x="1770" y="5885">除不可抗力的原因外，甲乙双方必须严格遵守</tspan><tspan x="1770" y="5902">合同约定，信守承诺，如若任何一方无违反合</tspan><tspan x="1770" y="5919">同约定，造成另一方损失，以致于合同无法完</tspan><tspan x="1770" y="5936">成，应付______%的违约金。</tspan></text></g>
<g id="b5-14"><line class="u" x1="1629" y1="6037" x2="1778" y2="6037"/><text class="t" x="1636" y="6028">第十一条 争议纠纷解决</text></g>
<g id="b5-14-1"><line class="u" x1="1802" y1="6037" x2="2077" y2="6037"/><text class="t"><tspan x="1809" y="5994">双方就本合同约定事项有所争议时，双方应协</tspan><tspan x="1809" y="6011">商解决，协商不成的，任何一方均可向合同履</tspan><tspan x="1809" y="6028">行地的人民法院起诉。</tspan></text></g>
</g>
</svg>
